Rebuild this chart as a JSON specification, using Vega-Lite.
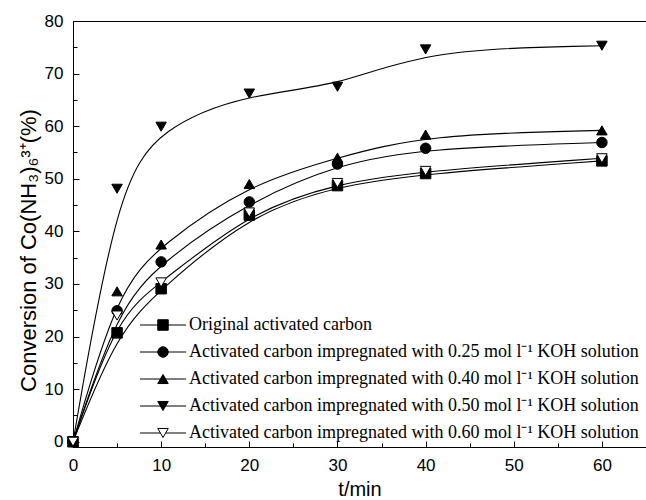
{
  "$schema": "https://vega.github.io/schema/vega-lite/v6.json",
  "width": 573,
  "height": 426,
  "autosize": "none",
  "padding": {"left": 73, "top": 21, "right": 0, "bottom": 53},
  "background": "white",
  "config": {
    "view": {"stroke": "black", "strokeWidth": 1},
    "axis": {
      "grid": false,
      "domainColor": "black",
      "tickColor": "black",
      "labelColor": "black",
      "titleColor": "black",
      "labelFont": "Liberation Sans",
      "titleFont": "Liberation Sans",
      "labelFontSize": 17,
      "titleFontSize": 20,
      "titleFontWeight": "normal",
      "labelFlush": false,
      "labelOverlap": false
    },
    "point": {"size": 110, "stroke": "black", "strokeWidth": 1, "opacity": 1}
  },
  "data": {
    "values": [
      {"s": "Original activated carbon", "t": 0, "c": 0},
      {"s": "Original activated carbon", "t": 5, "c": 20.7},
      {"s": "Original activated carbon", "t": 10, "c": 29.1},
      {"s": "Original activated carbon", "t": 20, "c": 43.1},
      {"s": "Original activated carbon", "t": 30, "c": 48.7},
      {"s": "Original activated carbon", "t": 40, "c": 51.0},
      {"s": "Original activated carbon", "t": 60, "c": 53.4},
      {"s": "Activated carbon impregnated with 0.25 mol l⁻¹ KOH solution", "t": 0, "c": 0},
      {"s": "Activated carbon impregnated with 0.25 mol l⁻¹ KOH solution", "t": 5, "c": 24.9},
      {"s": "Activated carbon impregnated with 0.25 mol l⁻¹ KOH solution", "t": 10, "c": 34.2},
      {"s": "Activated carbon impregnated with 0.25 mol l⁻¹ KOH solution", "t": 20, "c": 45.6},
      {"s": "Activated carbon impregnated with 0.25 mol l⁻¹ KOH solution", "t": 30, "c": 52.8},
      {"s": "Activated carbon impregnated with 0.25 mol l⁻¹ KOH solution", "t": 40, "c": 55.8},
      {"s": "Activated carbon impregnated with 0.25 mol l⁻¹ KOH solution", "t": 60, "c": 56.9},
      {"s": "Activated carbon impregnated with 0.40 mol l⁻¹ KOH solution", "t": 0, "c": 0},
      {"s": "Activated carbon impregnated with 0.40 mol l⁻¹ KOH solution", "t": 5, "c": 28.6},
      {"s": "Activated carbon impregnated with 0.40 mol l⁻¹ KOH solution", "t": 10, "c": 37.5},
      {"s": "Activated carbon impregnated with 0.40 mol l⁻¹ KOH solution", "t": 20, "c": 49.0},
      {"s": "Activated carbon impregnated with 0.40 mol l⁻¹ KOH solution", "t": 30, "c": 54.0},
      {"s": "Activated carbon impregnated with 0.40 mol l⁻¹ KOH solution", "t": 40, "c": 58.4},
      {"s": "Activated carbon impregnated with 0.40 mol l⁻¹ KOH solution", "t": 60, "c": 59.2},
      {"s": "Activated carbon impregnated with 0.50 mol l⁻¹ KOH solution", "t": 0, "c": 0},
      {"s": "Activated carbon impregnated with 0.50 mol l⁻¹ KOH solution", "t": 5, "c": 48.1},
      {"s": "Activated carbon impregnated with 0.50 mol l⁻¹ KOH solution", "t": 10, "c": 59.9},
      {"s": "Activated carbon impregnated with 0.50 mol l⁻¹ KOH solution", "t": 20, "c": 66.2},
      {"s": "Activated carbon impregnated with 0.50 mol l⁻¹ KOH solution", "t": 30, "c": 67.5},
      {"s": "Activated carbon impregnated with 0.50 mol l⁻¹ KOH solution", "t": 40, "c": 74.6},
      {"s": "Activated carbon impregnated with 0.50 mol l⁻¹ KOH solution", "t": 60, "c": 75.3},
      {"s": "Activated carbon impregnated with 0.60 mol l⁻¹ KOH solution", "t": 0, "c": 0},
      {"s": "Activated carbon impregnated with 0.60 mol l⁻¹ KOH solution", "t": 5, "c": 24.0},
      {"s": "Activated carbon impregnated with 0.60 mol l⁻¹ KOH solution", "t": 10, "c": 30.3},
      {"s": "Activated carbon impregnated with 0.60 mol l⁻¹ KOH solution", "t": 20, "c": 43.6},
      {"s": "Activated carbon impregnated with 0.60 mol l⁻¹ KOH solution", "t": 30, "c": 49.2},
      {"s": "Activated carbon impregnated with 0.60 mol l⁻¹ KOH solution", "t": 40, "c": 51.5},
      {"s": "Activated carbon impregnated with 0.60 mol l⁻¹ KOH solution", "t": 60, "c": 53.9}
    ]
  },
  "layer": [
    {
      "mark": {"type": "line", "interpolate": "basis", "strokeWidth": 1.1},
      "encoding": {
        "x": {
          "field": "t", "type": "quantitative",
          "scale": {"domain": [0, 65], "nice": false, "zero": false},
          "axis": {"orient": "bottom", "values": [0, 10, 20, 30, 40, 50, 60], "tickSize": -6, "labelPadding": 16, "title": "t/min", "titlePadding": 6}
        },
        "y": {
          "field": "c", "type": "quantitative",
          "scale": {"domain": [-1, 80], "nice": false, "zero": false},
          "axis": {"orient": "left", "values": [0, 10, 20, 30, 40, 50, 60, 70, 80], "tickSize": -6, "labelPadding": 16, "title": "Conversion of Co(NH₃)₆³⁺(%)", "titleFontSize": 22, "titlePadding": 4, "titleY": 229}
        },
        "color": {
          "field": "s", "type": "nominal",
          "scale": {
            "domain": [
              "Original activated carbon",
              "Activated carbon impregnated with 0.25 mol l⁻¹ KOH solution",
              "Activated carbon impregnated with 0.40 mol l⁻¹ KOH solution",
              "Activated carbon impregnated with 0.50 mol l⁻¹ KOH solution",
              "Activated carbon impregnated with 0.60 mol l⁻¹ KOH solution"
            ],
            "range": ["black", "black", "black", "black", "black"]
          },
          "legend": {
            "orient": "none", "legendX": 81, "legendY": 295, "title": null, "padding": 0,
            "symbolSize": 110, "symbolStrokeWidth": 1, "symbolStrokeColor": "black",
            "labelFont": "Liberation Serif", "labelFontSize": 18, "labelColor": "black",
            "labelOffset": 17, "rowPadding": 9, "labelLimit": 0,
            "encode": {"symbols": {"update": {
              "shape": {"signal": "['M-4.4,0H4.4M-1,-1H1V1H-1Z','M-4.4,0H4.4M1,0A1,1,0,1,1,-1,0A1,1,0,1,1,1,0Z','M-4.4,0H4.4M0,-0.866L1,0.866L-1,0.866Z','M-4.4,0H4.4M0,0.866L1,-0.866L-1,-0.866Z','M-4.4,0H-0.5M0.5,0H4.4M0,0.866L1,-0.866L-1,-0.866Z'][indexof(domain('color'), datum.value)]"},
              "fill": {"signal": "indexof(datum.value, '0.60') >= 0 ? 'white' : 'black'"},
              "fillOpacity": {"value": 1},
              "strokeWidth": {"value": 1}
            }}}
          }
        }
      }
    },
    {
      "transform": [{"filter": "datum.s == 'Original activated carbon'"}],
      "mark": {"type": "point", "shape": "square", "filled": true, "fill": "black"},
      "encoding": {
        "x": {
          "field": "t", "type": "quantitative",
          "axis": {"orient": "bottom", "values": [5, 15, 25, 35, 45, 55, 65], "tickSize": -4, "labels": false, "domain": false, "title": null}
        },
        "y": {
          "field": "c", "type": "quantitative",
          "axis": {"orient": "left", "values": [5, 15, 25, 35, 45, 55, 65, 75], "tickSize": -4, "labels": false, "domain": false, "title": null}
        }
      }
    },
    {
      "transform": [{"filter": "indexof(datum.s, '0.25') >= 0"}],
      "mark": {"type": "point", "shape": "circle", "filled": true, "fill": "black"},
      "encoding": {
        "x": {"field": "t", "type": "quantitative", "axis": null},
        "y": {"field": "c", "type": "quantitative", "axis": null}
      }
    },
    {
      "transform": [{"filter": "indexof(datum.s, '0.40') >= 0"}],
      "mark": {"type": "point", "shape": "triangle-up", "filled": true, "fill": "black"},
      "encoding": {
        "x": {"field": "t", "type": "quantitative", "axis": null},
        "y": {"field": "c", "type": "quantitative", "axis": null}
      }
    },
    {
      "transform": [{"filter": "indexof(datum.s, '0.50') >= 0"}],
      "mark": {"type": "point", "shape": "triangle-down", "filled": true, "fill": "black"},
      "encoding": {
        "x": {"field": "t", "type": "quantitative", "axis": null},
        "y": {"field": "c", "type": "quantitative", "axis": null}
      }
    },
    {
      "transform": [{"filter": "indexof(datum.s, '0.60') >= 0"}],
      "mark": {"type": "point", "shape": "triangle-down", "filled": true, "fill": "white"},
      "encoding": {
        "x": {"field": "t", "type": "quantitative", "axis": null},
        "y": {"field": "c", "type": "quantitative", "axis": null}
      }
    }
  ],
  "resolve": {"axis": {"x": "independent", "y": "independent"}}
}
